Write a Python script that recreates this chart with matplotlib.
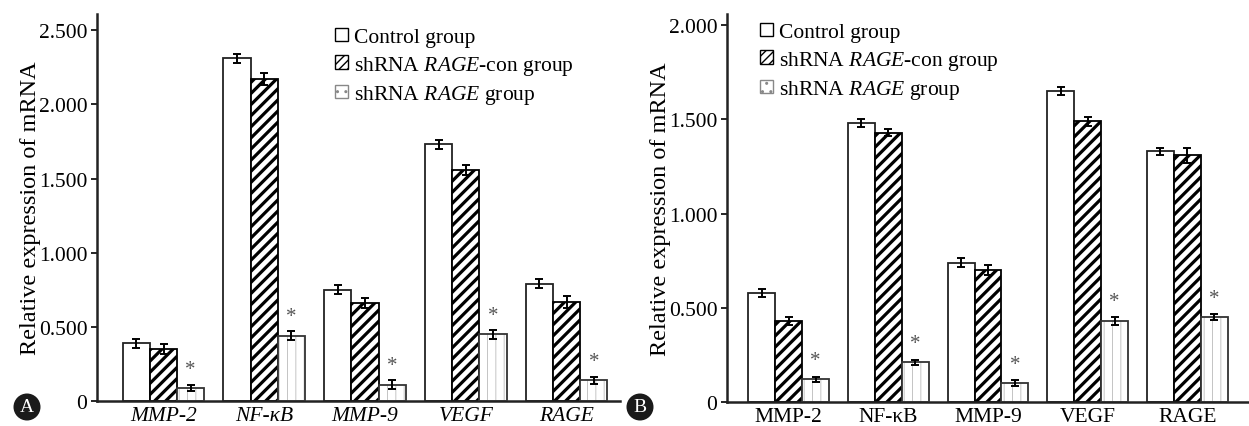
import matplotlib

matplotlib.use("Agg")
import matplotlib.pyplot as plt
import numpy as np
from matplotlib.patches import Ellipse, Patch

plt.rcParams["font.family"] = ["Liberation Serif", "DejaVu Serif"]
plt.rcParams["mathtext.fontset"] = "custom"
plt.rcParams["mathtext.rm"] = "Liberation Serif"
plt.rcParams["mathtext.it"] = "Liberation Serif:italic"

genes = ["MMP-2", "NF-κB", "MMP-9", "VEGF", "RAGE"]
groups = ["Control group", "shRNA $\\mathit{RAGE}$-con group", "shRNA $\\mathit{RAGE}$ group"]

# panel A
a_control = [0.39, 2.31, 0.75, 1.73, 0.79]
a_con = [0.35, 2.17, 0.66, 1.56, 0.67]
a_sh = [0.09, 0.44, 0.11, 0.45, 0.14]
a_control_err = [0.03, 0.03, 0.03, 0.03, 0.03]
a_con_err = [0.035, 0.04, 0.035, 0.035, 0.04]
a_sh_err = [0.02, 0.03, 0.03, 0.03, 0.025]
a_ticks = [0, 0.5, 1.0, 1.5, 2.0, 2.5]
a_ticklabels = ["0", "0.500", "1.000", "1.500", "2.000", "2.500"]

# panel B
b_control = [0.58, 1.48, 0.74, 1.65, 1.33]
b_con = [0.43, 1.43, 0.70, 1.49, 1.31]
b_sh = [0.12, 0.21, 0.10, 0.43, 0.45]
b_control_err = [0.02, 0.02, 0.025, 0.02, 0.02]
b_con_err = [0.02, 0.02, 0.025, 0.025, 0.04]
b_sh_err = [0.015, 0.015, 0.015, 0.02, 0.015]
b_ticks = [0, 0.5, 1.0, 1.5, 2.0]
b_ticklabels = ["0", "0.500", "1.000", "1.500", "2.000"]

W, H = 1249, 427
FS = 15.5
STRIPE_LW = 2.3
DOT_LW = 0.7


def panel(ax, vals, errs, ticks, ticklabels, ylim, xlim, italic):
    x = np.arange(len(genes))
    w = 0.27
    ek = dict(ecolor="black", elinewidth=1.4, capsize=3, capthick=1.4)
    ax.bar(x - w, vals[0], w, yerr=errs[0], facecolor="white", edgecolor="#222222",
           linewidth=1.3, error_kw=ek, zorder=2)
    with plt.rc_context({"hatch.linewidth": STRIPE_LW}):
        ax.bar(x, vals[1], w, yerr=errs[1], facecolor="white", edgecolor="black",
               hatch="///", linewidth=1.3, error_kw=ek, zorder=2)
    # faint dotted fill drawn in gray, then a dark outline on top
    with plt.rc_context({"hatch.linewidth": DOT_LW}):
        ax.bar(x + w, vals[2], w, facecolor="white", edgecolor="#c4c4c4",
               hatch="||", linewidth=0, zorder=2)
    ax.bar(x + w, vals[2], w, yerr=errs[2], facecolor="none", edgecolor="#333333",
           linewidth=1.3, error_kw=ek, zorder=3)
    for xi, v, e in zip(x + w, vals[2], errs[2]):
        ax.text(xi, v + e + 0.035, "*", ha="center", va="bottom", fontsize=15,
                color="#555555")
    ax.set_xlim(*xlim)
    ax.set_ylim(*ylim)
    ax.set_yticks(ticks)
    ax.set_yticklabels(ticklabels, fontsize=FS)
    ax.set_xticks(x)
    ax.set_xticklabels(genes, fontsize=FS, fontstyle="italic" if italic else "normal")
    ax.tick_params(axis="x", length=0, pad=3.5)
    ax.tick_params(axis="y", length=4, width=1.2, direction="out", pad=3)
    for s in ("top", "right"):
        ax.spines[s].set_visible(False)
    for s in ("left", "bottom"):
        ax.spines[s].set_linewidth(1.8)
        ax.spines[s].set_color("#222222")
    ax.set_ylabel("Relative expression of mRNA", fontsize=17.5, labelpad=-2)


fig = plt.figure(figsize=(W / 100, H / 100), dpi=100)
ax1 = fig.add_axes([97 / W, 25 / H, (620 - 97) / W, 387 / H])
ax2 = fig.add_axes([727 / W, 24 / H, (W - 727) / W, 388 / H])

panel(ax1, [a_control, a_con, a_sh], [a_control_err, a_con_err, a_sh_err],
      a_ticks, a_ticklabels, (0, 2.61), (-0.66, 4.53), True)
panel(ax2, [b_control, b_con, b_sh], [b_control_err, b_con_err, b_sh_err],
      b_ticks, b_ticklabels, (0, 2.06), (-0.62, 4.62), False)

with plt.rc_context({"hatch.linewidth": 1.5}):
    handles = [
        Patch(facecolor="white", edgecolor="black", linewidth=1.0),
        Patch(facecolor="white", edgecolor="black", hatch="////", linewidth=1.0),
        Patch(facecolor="white", edgecolor="#888888", hatch="..", linewidth=1.0),
    ]
for anchor in [(324 / W, 1 - 18 / H), (749 / W, 1 - 13 / H)]:
    fig.legend(handles, groups, loc="upper left", bbox_to_anchor=anchor,
               bbox_transform=fig.transFigure, frameon=False, fontsize=FS,
               handlelength=0.6, handleheight=0.6, handletextpad=0.3,
               labelspacing=0.3, borderpad=0)

for cx, letter in [(27, "A"), (640, "B")]:
    fig.patches.append(Ellipse((cx / W, (H - 408) / H), 27 / W, 27 / H,
                               transform=fig.transFigure,
                               facecolor="#1a1a1a", edgecolor="none"))
    fig.text(cx / W, (H - 408) / H, letter, ha="center", va="center",
             color="white", fontsize=14)

fig.savefig("out.png", dpi=100)
